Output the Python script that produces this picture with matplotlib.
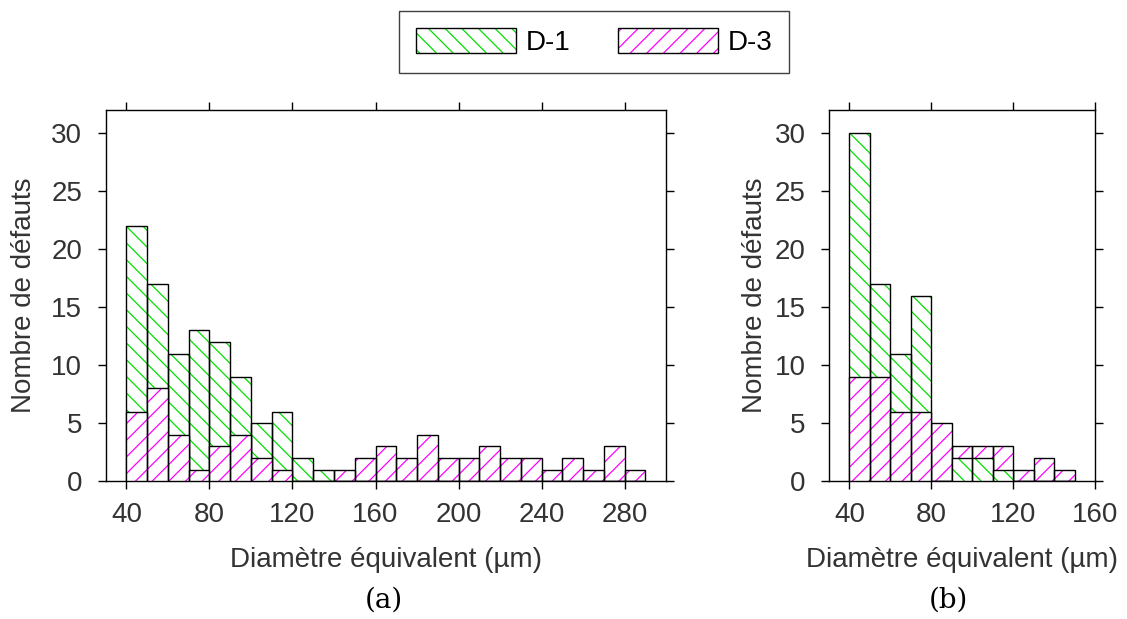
import numpy as np
import matplotlib as mpl
import matplotlib.pyplot as plt
from matplotlib.patches import Patch
from matplotlib.legend_handler import HandlerTuple

mpl.use('Agg')

# -------------------------------------------------------------------------
# data: number of defects per 10 um bin (bin left edges)
# -------------------------------------------------------------------------
BIN_WIDTH = 10

edges_a = np.arange(40, 290, 10)
d1_a = np.array([22, 17, 11, 13, 12, 9, 5, 6, 2, 1, 0, 0, 0, 0, 0,
                 0, 0, 0, 0, 0, 0, 0, 0, 0, 0])
d3_a = np.array([6, 8, 4, 1, 3, 4, 2, 1, 0, 0, 1, 2, 3, 2, 4,
                 2, 2, 3, 2, 2, 1, 2, 1, 3, 1])

edges_b = np.arange(40, 150, 10)
d1_b = np.array([30, 17, 11, 16, 0, 2, 2, 1, 0, 0, 0])
d3_b = np.array([9, 9, 6, 6, 5, 3, 3, 3, 1, 2, 1])

series_names = ['D-1', 'D-3']
xticks_a = [40, 80, 120, 160, 200, 240, 280]
xticks_b = [40, 80, 120, 160]
yticks = [0, 5, 10, 15, 20, 25, 30]

GREEN = '#00e000'
MAGENTA = '#ff00ff'
TEXT = '#333333'
HATCH_D1 = '\\\\'
HATCH_D3 = '//'

plt.rcParams['font.family'] = ['Liberation Sans', 'DejaVu Sans']
plt.rcParams['hatch.linewidth'] = 0.9


def draw_hist(ax, edges, d1, d3):
    # the taller bar of each bin goes behind, the shorter one in front
    back_is_d1 = d1 >= d3
    back = np.where(back_is_d1, d1, d3)
    front = np.where(back_is_d1, d3, d1)
    for vals, is_d1, z in [(back, back_is_d1, 2), (front, ~back_is_d1, 3)]:
        bars = ax.bar(edges, vals, width=BIN_WIDTH, align='edge',
                      color='white', lw=0, zorder=z)
        for b, g in zip(bars, is_d1):
            b.set_hatch(HATCH_D1 if g else HATCH_D3)
            b.set_edgecolor(GREEN if g else MAGENTA)
        ax.bar(edges, vals, width=BIN_WIDTH, align='edge', fill=False,
               edgecolor='black', lw=1.0, zorder=z + 0.1)


def style_axes(ax, xlim, xticks, ylabel_x):
    ax.set_xlim(xlim)
    ax.set_ylim(0, 32)
    ax.set_xticks(xticks)
    ax.set_yticks(yticks)
    ax.tick_params(direction='out', length=6, width=1.0, labelsize=20,
                   labelcolor=TEXT, top=True, right=True)
    ax.tick_params(axis='x', pad=9)
    ax.tick_params(axis='y', pad=11)
    for s in ax.spines.values():
        s.set_linewidth(1.0)
    ax.set_xlabel('Diamètre équivalent (µm)', fontsize=20, color=TEXT,
                  va='center')
    ax.xaxis.set_label_coords(0.5, -0.212)
    ax.set_ylabel('Nombre de défauts', fontsize=20, color=TEXT, va='center')
    ax.yaxis.set_label_coords(ylabel_x, 0.5)


fig = plt.figure(figsize=(11.27, 6.19), dpi=100)
ax_a = fig.add_axes([0.0938, 0.2224, 0.4972, 0.6004])
ax_b = fig.add_axes([0.7356, 0.2224, 0.2360, 0.6004])

draw_hist(ax_a, edges_a, d1_a, d3_a)
draw_hist(ax_b, edges_b, d1_b, d3_b)
style_axes(ax_a, (30, 300), xticks_a, -0.146)
style_axes(ax_b, (30, 160), xticks_b, -0.278)

fig.text(384 / 1127, 1 - 600 / 619, '(a)', family='DejaVu Serif',
         fontsize=20, ha='center', va='center')
fig.text(948 / 1127, 1 - 600 / 619, '(b)', family='DejaVu Serif',
         fontsize=20, ha='center', va='center')

handles = []
for c, h in [(GREEN, HATCH_D1), (MAGENTA, HATCH_D3)]:
    hatch = Patch(facecolor='white', edgecolor=c, hatch=h, lw=0)
    outline = Patch(fill=False, edgecolor='black', lw=1.0)
    handles.append((hatch, outline))

leg = fig.legend(handles, series_names, loc='center',
                 bbox_to_anchor=(594 / 1127, 1 - 42 / 619), ncol=2,
                 fontsize=20, handlelength=3.6, handleheight=1.0,
                 handletextpad=0.35, columnspacing=1.7, borderpad=0.6,
                 fancybox=False, framealpha=1,
                 handler_map={tuple: HandlerTuple(ndivide=1)})
leg.get_frame().set_edgecolor('#404040')
leg.get_frame().set_linewidth(1.0)

fig.savefig('out.png', dpi=100)
